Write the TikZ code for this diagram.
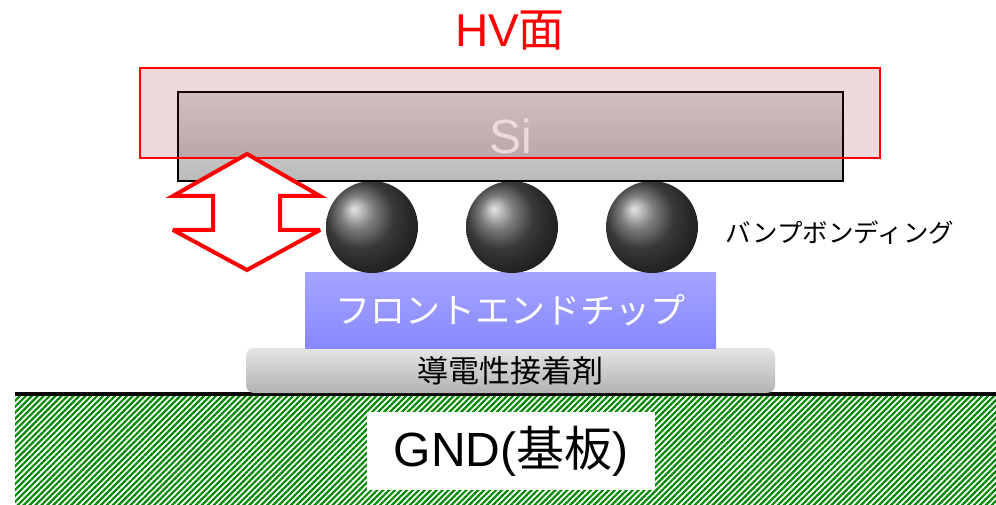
\documentclass[tikz,border=0pt]{standalone}
\usepackage{fontspec}
\setmainfont{Liberation Sans}
\newfontfamily\jpfont{Noto Sans CJK JP}
\usetikzlibrary{patterns.meta}

\definecolor{hvred}{RGB}{255,0,0}
\definecolor{hvtint}{RGB}{131,0,0}
\definecolor{gndgreen}{RGB}{0,135,0}
\definecolor{chiptop}{RGB}{164,164,255}
\definecolor{chipbot}{RGB}{136,136,255}

\tikzset{
  layer/.style={inner sep=0pt, outer sep=0pt},
  bump/.style={circle, minimum size=92pt, inner sep=0pt, shading=ball, ball color=black!68},
}

\begin{document}
\begin{tikzpicture}[x=1pt,y=-1pt]
  \useasboundingbox (0,0) rectangle (996,505);

  % substrate and ground line
  \fill[pattern={Lines[angle=45,distance=4.2pt,line width=2.2pt]}, pattern color=gndgreen]
    (15,396) rectangle (996,505);
  \draw[line width=4pt] (15,394) -- (996,394);
  \node[layer, fill=white, minimum width=288pt, minimum height=78pt] (gnd) at (511,451)
    {\fontsize{48}{54}\selectfont GND({\jpfont 基板})};

  % adhesive and front-end chip
  \node[layer, rounded corners=8pt, top color=black!10, bottom color=black!30,
        minimum width=529pt, minimum height=45pt] (glue) at (510.5,370.5)
    {\jpfont\fontsize{31}{34}\selectfont 導電性接着剤};
  \node[layer, top color=chiptop, bottom color=chipbot, text=white,
        minimum width=411pt, minimum height=76pt] (chip) at (510.5,310)
    {\jpfont\fontsize{35}{38}\selectfont フロントエンドチップ};

  % bumps
  \foreach \x [count=\i] in {372,512,652}
    \node[bump] (bump\i) at (\x,227) {};
  \node (bumplabel) at (840,233) {\jpfont\fontsize{25.5}{28}\selectfont バンプボンディング};

  % sensor and HV side
  \node[layer, draw, line width=1.5pt, top color=black!12, bottom color=black!27, text=white,
        minimum width=665pt, minimum height=89pt] (si) at (510.5,136.5)
    {\raisebox{-4pt}{\fontsize{48}{52}\selectfont Si}};
  \draw[hvred, line width=2pt, fill=hvtint, fill opacity=0.15] (140,68) rectangle (880,158);
  \node[hvred, anchor=base] (hv) at (510,47) {\fontsize{46}{50}\selectfont HV{\jpfont 面}};

  % gap arrow
  \draw[hvred, line width=4pt, fill=white, miter limit=4]
    (247,154) -- (320,196) -- (280,196) -- (280,230) -- (320,230) -- (247,270)
    -- (173,230) -- (213,230) -- (213,196) -- (173,196) -- cycle;
\end{tikzpicture}
\end{document}
